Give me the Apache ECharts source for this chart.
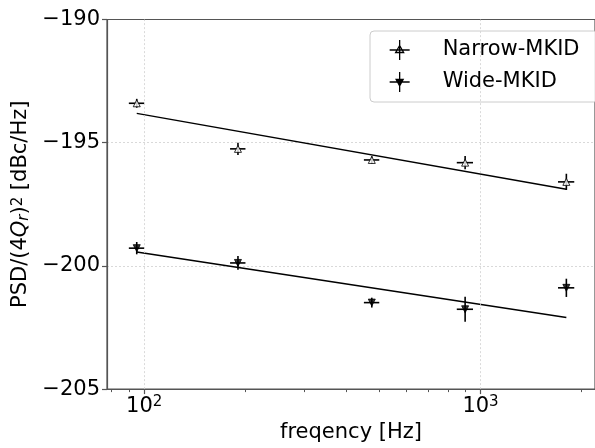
<!DOCTYPE html>
<html>
<head>
<meta charset="utf-8">
<script src="https://cdn.jsdelivr.net/npm/echarts@6/dist/echarts.min.js"></script>
<style>
html,body{margin:0;padding:0;background:#fff;}
#c{width:595px;height:448px;}
</style>
</head>
<body>
<div id="c"></div>
<script>
// ---- data ----
const freqs = [95, 190, 475, 900, 1800];            // Hz
const freqErr = [5, 10, 25, 50, 100];                // Hz
const narrowPSD = [-193.40, -195.25, -195.70, -195.81, -196.59];
const narrowErr = [0.18, 0.25, 0.15, 0.27, 0.33];
const widePSD = [-199.28, -199.88, -201.49, -201.76, -200.89];
const wideErr = [0.25, 0.28, 0.20, 0.51, 0.37];
const narrowFit = [-193.81, -196.89];                // at first and last frequency
const wideFit = [-199.44, -202.09];
const yTicks = [-205, -200, -195, -190];
const xMajorTicks = [100, 1000];
const xMinorTicks = [80, 90, 200, 300, 400, 500, 600, 700, 800, 900, 2000];
const xRange = [77.5, 2190];

const FONT = 'DejaVu Sans';
const L = Math.log10;

function errData(psd, perr) {
  return freqs.map((f, i) => [L(f), psd[i], L(f - freqErr[i]), L(f + freqErr[i]), psd[i] - perr[i], psd[i] + perr[i]]);
}
function renderErr(params, api) {
  const y = api.value(1), x = api.value(0);
  const a = api.coord([api.value(2), y]), b = api.coord([api.value(3), y]);
  const c = api.coord([x, api.value(4)]), d = api.coord([x, api.value(5)]);
  const st = {stroke: '#000', lineWidth: 1.6};
  return {type: 'group', children: [
    {type: 'line', shape: {x1: a[0], y1: a[1], x2: b[0], y2: b[1]}, style: st},
    {type: 'line', shape: {x1: c[0], y1: c[1], x2: d[0], y2: d[1]}, style: st}
  ]};
}

const chart = echarts.init(document.getElementById('c'), null, {renderer: 'canvas'});
const xmin = L(xRange[0]), xmax = L(xRange[1]);
const SPINE = '#555';

chart.setOption({
  animation: false,
  backgroundColor: '#fff',
  grid: {left: 107, top: 19.5, bottom: 56, right: -11, show: true, borderColor: SPINE, borderWidth: 1.2},
  legend: {
    orient: 'vertical', left: 370, top: 31,
    padding: [8, 18, 9, 19],
    borderColor: '#ccc', borderWidth: 1, borderRadius: 4,
    backgroundColor: 'rgba(255,255,255,0.85)',
    itemWidth: 20, itemHeight: 20, itemGap: 10,
    textStyle: {fontFamily: FONT, fontSize: 21, color: '#000', lineHeight: 22, padding: [0, 0, 0, 28]},
    data: [
      {name: 'Narrow-MKID', icon: 'path://M0,10L20,10M10,0L10,20M10,5.5L14,12.5L6,12.5Z',
       itemStyle: {color: '#fff', borderColor: '#000', borderWidth: 1.3, opacity: 1}},
      {name: 'Wide-MKID', icon: 'path://M0,10L20,10M10,0L10,20M6.5,7.5L13.5,7.5L10,14Z',
       itemStyle: {color: '#000', borderColor: '#000', borderWidth: 1.3, opacity: 1}}
    ]
  },
  xAxis: [{
    type: 'value', min: xmin, max: xmax, position: 'bottom',
    name: 'freqency [Hz]', nameLocation: 'middle', nameGap: 28,
    nameTextStyle: {fontFamily: FONT, fontSize: 21, color: '#000'},
    axisLine: {show: true, lineStyle: {color: SPINE, width: 1.2}},
    axisTick: {show: true, length: 5, customValues: xMajorTicks.map(L), lineStyle: {color: SPINE, width: 1.2}},
    axisLabel: {
      customValues: xMajorTicks.map(L), margin: 6, color: '#000', fontFamily: FONT, fontSize: 21,
      formatter: v => '10{sup|' + Math.round(v) + '}',
      rich: {sup: {fontSize: 15, fontFamily: FONT, color: '#000', verticalAlign: 'top', padding: [0, 0, 8, 0]}}
    },
    splitLine: {show: false}
  }, {
    type: 'value', min: xmin, max: xmax, position: 'bottom',
    axisLine: {show: false},
    axisTick: {show: true, length: 3, customValues: xMinorTicks.map(L), lineStyle: {color: SPINE, width: 1}},
    axisLabel: {show: false},
    splitLine: {show: false}
  }],
  yAxis: {
    type: 'value', min: yTicks[0], max: yTicks[yTicks.length - 1], interval: 5,
    name: 'PSD/(4{q|Q}{s|r}){p|2} [dBc/Hz]', nameLocation: 'middle', nameGap: 74, nameRotate: 90,
    nameTextStyle: {fontFamily: FONT, fontSize: 21, color: '#000',
      rich: {
        q: {fontFamily: FONT, fontSize: 21, fontStyle: 'italic', color: '#000'},
        s: {fontFamily: FONT, fontSize: 15, fontStyle: 'italic', color: '#000', verticalAlign: 'bottom'},
        p: {fontFamily: FONT, fontSize: 15, color: '#000', verticalAlign: 'top'}
      }},
    axisLine: {show: true, lineStyle: {color: SPINE, width: 1.2}},
    axisTick: {show: true, length: 5, lineStyle: {color: SPINE, width: 1.2}},
    axisLabel: {margin: 7, color: '#000', fontFamily: FONT, fontSize: 21,
      formatter: v => (v < 0 ? '\u2212' : '') + Math.abs(v)},
    splitLine: {show: true, showMinLine: false, showMaxLine: false,
      lineStyle: {color: '#d0d0d0', width: 0.8, type: [2, 2]}}
  },
  series: [
    {
      name: 'grid-x', type: 'line', data: [], z: 1, silent: true,
      markLine: {silent: true, symbol: 'none', label: {show: false},
        lineStyle: {color: '#d0d0d0', width: 0.8, type: [2, 2]},
        data: xMajorTicks.map(t => ({xAxis: L(t)}))}
    },
    {name: 'Narrow fit', type: 'line', showSymbol: false, z: 2,
     data: [[L(freqs[0]), narrowFit[0]], [L(freqs[freqs.length - 1]), narrowFit[1]]],
     lineStyle: {color: '#000', width: 1.5}},
    {name: 'Wide fit', type: 'line', showSymbol: false, z: 2,
     data: [[L(freqs[0]), wideFit[0]], [L(freqs[freqs.length - 1]), wideFit[1]]],
     lineStyle: {color: '#000', width: 1.5}},
    {name: 'Narrow err', type: 'custom', z: 3, renderItem: renderErr, data: errData(narrowPSD, narrowErr)},
    {name: 'Wide err', type: 'custom', z: 3, renderItem: renderErr, data: errData(widePSD, wideErr)},
    {name: 'Narrow-MKID', type: 'scatter', z: 4, symbol: 'triangle', symbolSize: 7,
     itemStyle: {color: '#fff', borderColor: '#000', borderWidth: 1},
     data: freqs.map((f, i) => [L(f), narrowPSD[i]])},
    {name: 'Wide-MKID', type: 'scatter', z: 4, symbol: 'triangle', symbolRotate: 180, symbolSize: 7,
     itemStyle: {color: '#000', borderColor: '#000', borderWidth: 1},
     data: freqs.map((f, i) => [L(f), widePSD[i]])}
  ]
});
</script>
</body>
</html>
